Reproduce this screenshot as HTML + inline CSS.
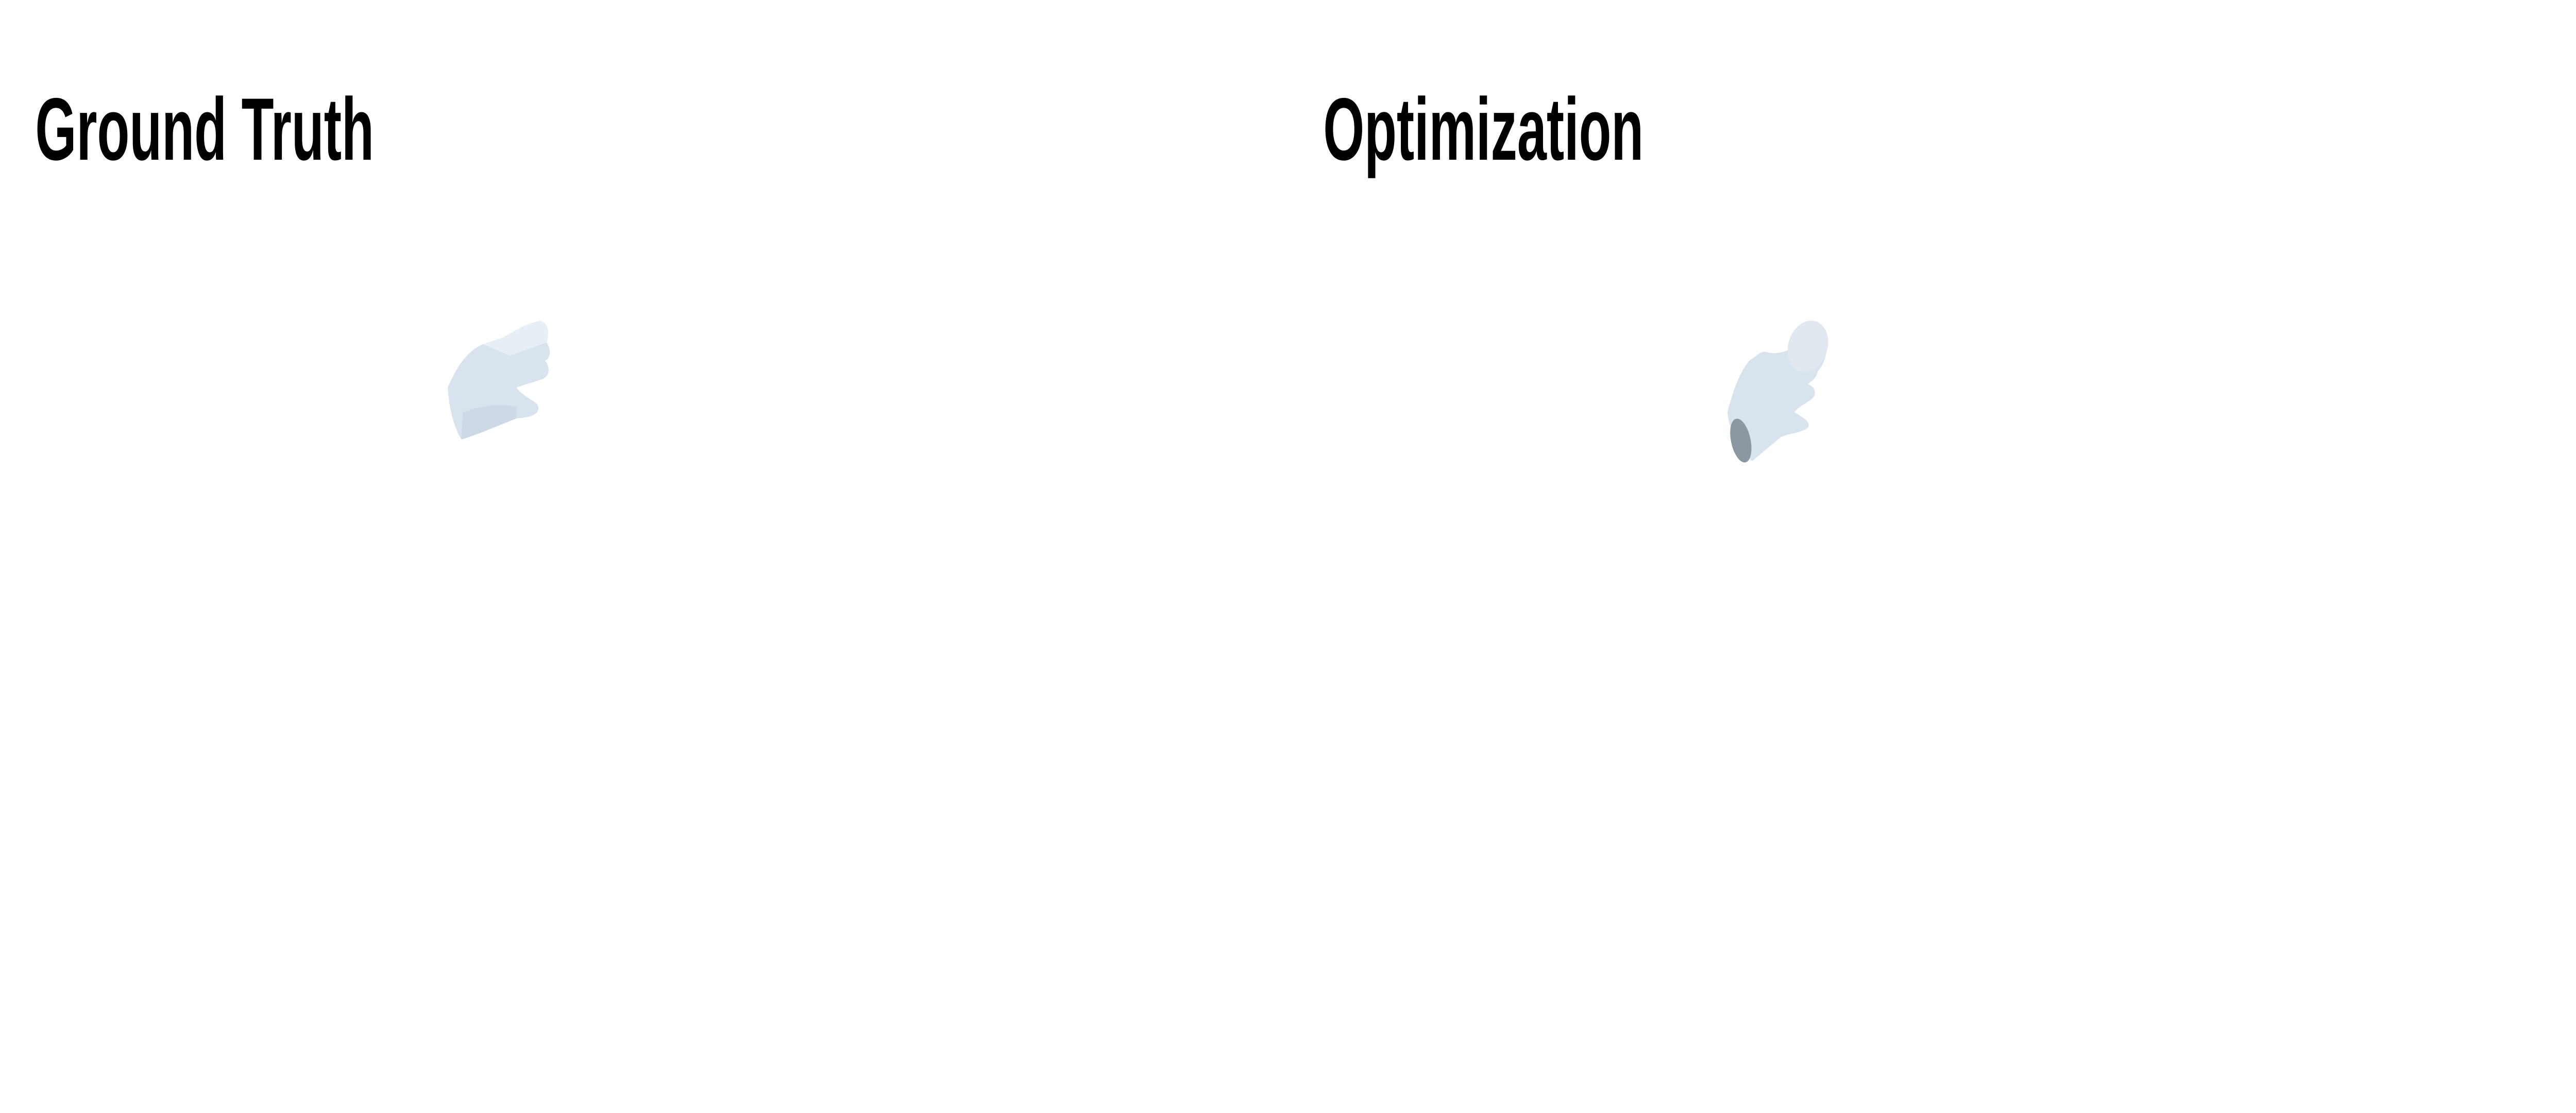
<!DOCTYPE html>
<html><head><meta charset="utf-8"><style>
html,body{margin:0;padding:0;background:#fff;width:100%;height:100%;overflow:hidden;}
svg{display:block;width:100vw;height:100vh;}
</style></head><body>
<svg viewBox="0 0 7680 2160" preserveAspectRatio="none">
<rect width="7680" height="2160" fill="#fff"/>
<text x="105" y="310" font-family="Liberation Sans, sans-serif" font-weight="bold" font-size="172" textLength="1010" lengthAdjust="spacingAndGlyphs">Ground Truth</text>
<text x="3945" y="310" font-family="Liberation Sans, sans-serif" font-weight="bold" font-size="172" textLength="955" lengthAdjust="spacingAndGlyphs">Optimization</text>
<g>
<path d="M1335,752 C1370,700 1400,680 1440,668 L1500,655 C1540,640 1570,628 1610,623 C1630,625 1640,640 1630,665 C1645,680 1640,695 1625,700 C1640,712 1640,728 1620,735 C1600,740 1570,745 1540,752 C1565,775 1610,778 1605,795 C1600,808 1570,810 1540,812 C1500,822 1470,830 1440,835 C1400,845 1380,855 1375,852 C1355,830 1340,800 1335,752 Z" fill="#d8e3ee"/>
<path d="M1440,668 L1500,655 C1540,640 1570,628 1610,623 C1630,625 1640,640 1630,665 L1520,690 Z" fill="#e6eef6"/>
<path d="M1380,800 C1430,790 1480,780 1540,790 L1540,812 C1470,830 1400,850 1375,852 Z" fill="#cdd9e4"/>
</g>
<g>
<path d="M5150,800 C5170,750 5190,720 5215,700 C5240,690 5250,680 5265,683 C5300,690 5330,680 5360,672 L5360,650 C5375,630 5400,622 5420,630 C5460,650 5450,700 5420,720 C5415,735 5400,740 5390,745 C5410,750 5420,765 5400,775 C5380,785 5360,790 5350,800 C5380,812 5400,820 5390,830 C5370,840 5340,840 5310,848 C5270,870 5240,885 5225,895 C5190,880 5160,850 5150,800 Z" fill="#d8e3ee"/>
<ellipse cx="5390" cy="672" rx="62" ry="48" fill="#e1e8ef" transform="rotate(-20 5390 672)"/>
<ellipse cx="5190" cy="855" rx="28" ry="45" fill="#8c97a2" transform="rotate(-25 5190 855)"/>
</g>
</svg>
</body></html>
